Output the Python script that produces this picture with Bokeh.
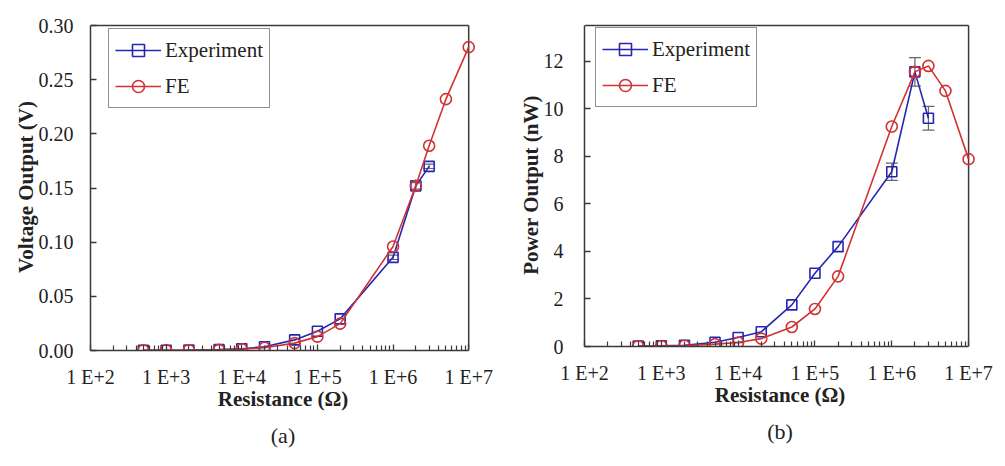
from bokeh.plotting import figure
from bokeh.models import (FixedTicker, CustomJSTickFormatter, Whisker, TeeHead,
                          ColumnDataSource, Title, NumeralTickFormatter, Range1d)
from bokeh.layouts import row
from bokeh.embed import file_html
from bokeh.resources import INLINE

# ---------------- data ----------------
R_exp = [5e2, 1e3, 2e3, 5e3, 1e4, 2e4, 5e4, 1e5, 2e5, 1e6, 2e6, 3e6]
R_fe = [5e2, 1e3, 2e3, 5e3, 1e4, 2e4, 5e4, 1e5, 2e5, 1e6, 2e6, 3e6, 5e6, 1e7]

V_exp = [0.0002, 0.0003, 0.0004, 0.0008, 0.0016, 0.0035, 0.0098, 0.0178, 0.0292, 0.086, 0.152, 0.170]
V_fe = [0.0001, 0.0002, 0.0003, 0.0006, 0.0012, 0.0025, 0.0068, 0.0128, 0.0248, 0.096, 0.152, 0.189, 0.232, 0.280]
V_err_R = [1e6, 2e6, 3e6]
V_err_mid = [0.086, 0.152, 0.170]
V_err = [0.002, 0.003, 0.002]

P_exp = [0.02, 0.03, 0.05, 0.18, 0.38, 0.62, 1.75, 3.08, 4.2, 7.35, 11.55, 9.6]
P_fe = [0.01, 0.02, 0.03, 0.1, 0.17, 0.33, 0.82, 1.58, 2.95, 9.25, 11.55, 11.8, 10.75, 7.88]
P_err_R = [1e6, 2e6, 3e6]
P_err_mid = [7.35, 11.55, 9.6]
P_err = [0.36, 0.6, 0.5]

x_major = [1e2, 1e3, 1e4, 1e5, 1e6, 1e7]
x_minor = [m * 10 ** e for e in range(2, 7) for m in range(2, 10)]
X_MIN, X_MAX = 1e2, 1e7

BLUE = "#2626b4"
RED = "#d23232"
FRAME = "#3a3a3a"
FONT = "Liberation Serif"
XPAD_DEC = 0.09   # small extra room to the right so edge markers are not clipped


def make_fig(ymax, yticks, yfmt, ylabel, caption, frame_w, frame_h, bl, br, bt, bb,
             yexp, yfe, er_x, er_mid, er, legend_x, legend_y, ylab_standoff):
    ext_w = int(round(frame_w * XPAD_DEC / 5.0))
    ext_h = 2
    p = figure(x_axis_type="log",
               x_range=Range1d(X_MIN, X_MAX * 10 ** XPAD_DEC),
               y_range=Range1d(0, ymax * (frame_h + ext_h) / frame_h),
               frame_width=frame_w + ext_w, frame_height=frame_h + ext_h,
               min_border_left=bl, min_border_right=br - ext_w,
               min_border_top=bt - ext_h, min_border_bottom=bb,
               output_backend="svg", toolbar_location=None)
    p.grid.visible = False
    p.outline_line_color = None
    p.background_fill_color = "white"
    p.border_fill_color = "white"

    # top and right border of the box
    p.segment(x0=[X_MIN, X_MAX], y0=[ymax, 0], x1=[X_MAX, X_MAX], y1=[ymax, ymax],
              line_color=FRAME, line_width=1.5)

    xa = p.xaxis[0]
    xa.ticker = FixedTicker(ticks=x_major, minor_ticks=x_minor)
    xa.formatter = CustomJSTickFormatter(code="return '1 E+' + Math.round(Math.log10(tick));")
    xa.axis_label = "Resistance (\u03a9)"
    xa.bounds = (X_MIN, X_MAX)
    for ax in (p.xaxis[0], p.yaxis[0]):
        ax.axis_line_color = FRAME
        ax.axis_line_width = 1.5
        ax.major_tick_line_color = FRAME
        ax.major_tick_line_width = 1.3
        ax.minor_tick_line_color = FRAME
        ax.minor_tick_line_width = 1.2
        ax.major_tick_in = 6
        ax.major_tick_out = 0
        ax.minor_tick_in = 5
        ax.minor_tick_out = 0
        ax.major_label_text_font = FONT
        ax.major_label_text_font_size = "20px"
        ax.major_label_text_color = "#222222"
        ax.axis_label_text_font = FONT
        ax.axis_label_text_font_size = "21px"
        ax.axis_label_text_font_style = "bold"
        ax.axis_label_text_color = "#222222"
    xa.major_label_standoff = 15
    xa.axis_label_standoff = -4

    ya = p.yaxis[0]
    ya.ticker = FixedTicker(ticks=yticks)
    ya.formatter = NumeralTickFormatter(format=yfmt)
    ya.minor_tick_line_color = None
    ya.axis_label = ylabel
    ya.bounds = (0, ymax)
    ya.major_label_standoff = ylab_standoff
    ya.axis_label_standoff = -2

    es = ColumnDataSource(dict(x=er_x, up=[m + e for m, e in zip(er_mid, er)],
                               lo=[m - e for m, e in zip(er_mid, er)]))
    w = Whisker(base="x", upper="up", lower="lo", source=es, dimension="height",
                line_color="#666666", line_width=1.2,
                upper_head=TeeHead(size=12, line_color="#666666", line_width=1.2),
                lower_head=TeeHead(size=12, line_color="#666666", line_width=1.2))
    p.add_layout(w)

    p.line(R_exp, yexp, line_color=BLUE, line_width=1.6, legend_label="Experiment")
    p.scatter(R_exp, yexp, marker="square", size=10, line_color=BLUE, line_width=1.6,
              fill_alpha=0, legend_label="Experiment")
    p.line(R_fe, yfe, line_color=RED, line_width=1.6, legend_label="FE")
    p.scatter(R_fe, yfe, marker="circle", size=11, line_color=RED, line_width=1.6,
              fill_alpha=0, legend_label="FE")

    lg = p.legend[0]
    lg.location = (legend_x, legend_y)
    lg.label_text_font = FONT
    lg.label_text_font_size = "21px"
    lg.label_text_color = "#222222"
    lg.glyph_width = 46
    lg.glyph_height = 30
    lg.label_height = 30
    lg.label_standoff = 4
    lg.spacing = 6
    lg.padding = 6
    lg.margin = 0
    lg.border_line_color = "#222222"
    lg.border_line_width = 1.5
    lg.background_fill_alpha = 1

    t = Title(text=caption, align="center", text_font=FONT, text_font_size="22px",
              text_font_style="normal", text_color="#222222", standoff=14)
    p.add_layout(t, "below")
    return p


p1 = make_fig(0.30, [0, 0.05, 0.10, 0.15, 0.20, 0.25, 0.30], "0.00", "Voltage Output (V)", "(a)",
              378, 325, 90, 32, 25, 100, V_exp, V_fe, V_err_R, V_err_mid, V_err, 18, 325 - 5 - 78, 17)
p2 = make_fig(13.5, [0, 2, 4, 6, 8, 10, 12], "0", "Power Output (nW)", "(b)",
              384, 321, 84, 29, 25, 104, P_exp, P_fe, P_err_R, P_err_mid, P_err, 11, 321 - 4 - 78, 21)

layout = row(p1, p2)
open("out.html", "w").write(file_html(layout, INLINE))
